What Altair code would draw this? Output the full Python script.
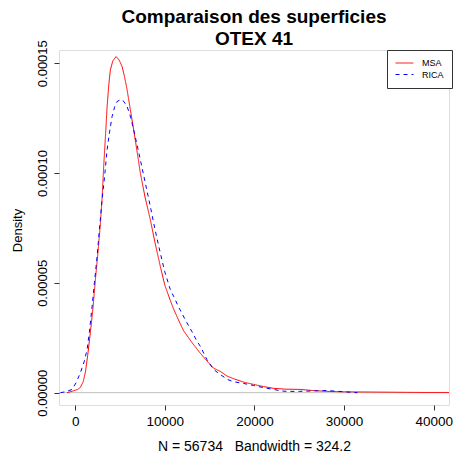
import altair as alt
import pandas as pd

# Density curves (x in m², density)
msa_x = [-900, -300, 300, 600, 900, 1150, 1400, 1700, 2000, 2260, 2550, 2817, 3000,
         3185, 3400, 3563, 3750, 3931, 4200, 4566, 4900, 5234, 5500, 5791, 6150,
         6526, 6900, 7272, 7800, 8385, 8900, 9499, 10000, 10612, 11000, 11600,
         12097, 13000, 13953, 14800, 15434, 16180, 16930, 17661, 18800, 19889,
         21000, 22116, 23500, 25088, 26500, 28062, 30000, 33000, 36000, 39000, 41700]
msa_y = [0.0, 0.07, 0.15, 0.25, 0.5, 0.95, 1.7, 2.75, 3.9, 5.15, 6.4, 7.7, 8.8,
         10.3, 11.8, 13.0, 14.0, 14.7, 15.1, 15.3, 15.15, 14.85, 14.4, 13.8, 12.9,
         11.97, 11.0, 10.0, 8.9, 7.88, 6.85, 5.75, 4.9, 4.2, 3.79, 3.25,
         2.82, 2.3, 1.8, 1.4, 1.12, 0.97, 0.76, 0.64, 0.48, 0.38,
         0.28, 0.2, 0.16, 0.15, 0.1, 0.06, 0.04, 0.03, 0.02, 0.01, 0.01]

rica_x = [-1640, -1000, -334, 100, 590, 1000, 1336, 1600, 1893, 2150, 2450, 2700,
          3007, 3300, 3563, 3850, 4120, 4400, 4677, 5122, 5450, 5791, 6150, 6526,
          6900, 7272, 7800, 8385, 8900, 9499, 10000, 10612, 10980, 11600, 12470,
          13000, 13582, 13950, 14700, 15430, 16180, 17000, 17660, 18800, 19889,
          21000, 22116, 23000, 23608, 25000, 26500, 28062, 30000, 31500]
rica_y = [0.0, 0.05, 0.15, 0.45, 0.91, 1.4, 1.97, 2.8, 3.94, 5.0, 6.2, 7.4,
          8.8, 9.9, 11.06, 11.9, 12.57, 13.0, 13.25, 13.36, 13.25, 13.03, 12.6, 11.97,
          11.3, 10.6, 9.6, 8.48, 7.45, 6.36, 5.5, 4.7, 4.39, 3.85, 3.18,
          2.8, 2.35, 2.12, 1.51, 1.06, 0.83, 0.6, 0.5, 0.42, 0.33,
          0.23, 0.15, 0.08, 0.06, 0.06, 0.08, 0.1, 0.04, 0.0]

series_names = ["MSA", "RICA"]
series_colors = ["#FF0000", "#0000FF"]
x_ticks = [0, 10000, 20000, 30000, 40000]
y_ticks = [0, 0.00005, 0.0001, 0.00015]

rows = []
for xv, yv in zip(msa_x, msa_y):
    rows.append({"series": "MSA", "x": xv, "y": yv * 1e-5})
for xv, yv in zip(rica_x, rica_y):
    rows.append({"series": "RICA", "x": xv, "y": yv * 1e-5})
df = pd.DataFrame(rows)

FONT = "Liberation Sans"
xscale = alt.Scale(domain=[-1800, 41700], nice=False, zero=False)
yscale = alt.Scale(domain=[-0.0000056, 0.000156], nice=False, zero=False)

legend = alt.Legend(
    title=None, orient="none", legendX=328, legendY=0, direction="vertical",
    symbolType="M-1,0H3", symbolSize=80, symbolStrokeWidth=1,
    labelFont=FONT, labelFontSize=9, labelOffset=17, labelColor="black",
    strokeColor="#333", fillColor="white", padding=8, rowPadding=1.5, cornerRadius=0,
)

zero_line = alt.Chart(pd.DataFrame({"y0": [0.0]})).mark_rule(
    color="#BEBEBE", strokeWidth=1
).encode(y=alt.Y("y0:Q", scale=yscale))

lines = alt.Chart(df).mark_line(strokeWidth=1, clip=True).encode(
    x=alt.X("x:Q", scale=xscale,
            axis=alt.Axis(values=x_ticks, format="d", domain=False, grid=False,
                          tickSize=5, tickColor="#333", labelFont=FONT, labelFontSize=13.5,
                          labelColor="black", labelPadding=4, labelFlush=False,
                          title="N = 56734\u00a0\u00a0\u00a0Bandwidth = 324.2",
                          titleFont=FONT, titleFontSize=14, titleFontWeight="normal",
                          titleColor="black", titlePadding=12)),
    y=alt.Y("y:Q", scale=yscale,
            axis=alt.Axis(values=y_ticks, format=".5f", domain=False, grid=False,
                          tickSize=5, tickColor="#333", labelFont=FONT, labelFontSize=13,
                          labelColor="black", labelAngle=270, labelAlign="center",
                          labelBaseline="alphabetic", labelPadding=8, labelFlush=False,
                          labelOverlap=False,
                          title="Density", titleFont=FONT, titleFontSize=13,
                          titleFontWeight="normal", titleColor="black", titleAngle=270,
                          titleAlign="center", titleBaseline="alphabetic",
                          titleX=-38, titleY=180)),
    color=alt.Color("series:N", scale=alt.Scale(domain=series_names, range=series_colors),
                    legend=legend),
    strokeDash=alt.StrokeDash("series:N",
                              scale=alt.Scale(domain=series_names, range=[[1, 0], [4, 4]]),
                              legend=legend),
)

chart = alt.layer(zero_line, lines).properties(
    width=390, height=355,
    padding={"left": 59, "top": 50, "right": 9, "bottom": 54},
    autosize="none",
    title=alt.TitleParams(
        text=["Comparaison des superficies", "OTEX 41"], font=FONT, fontSize=19,
        fontWeight="bold", color="black", anchor="middle", baseline="bottom",
        lineHeight=22, offset=1, dy=29,
    ),
).configure_view(stroke="#333", strokeWidth=1).configure(background="white")

chart.save("out.html", embed_options={"renderer": "svg", "actions": False})
